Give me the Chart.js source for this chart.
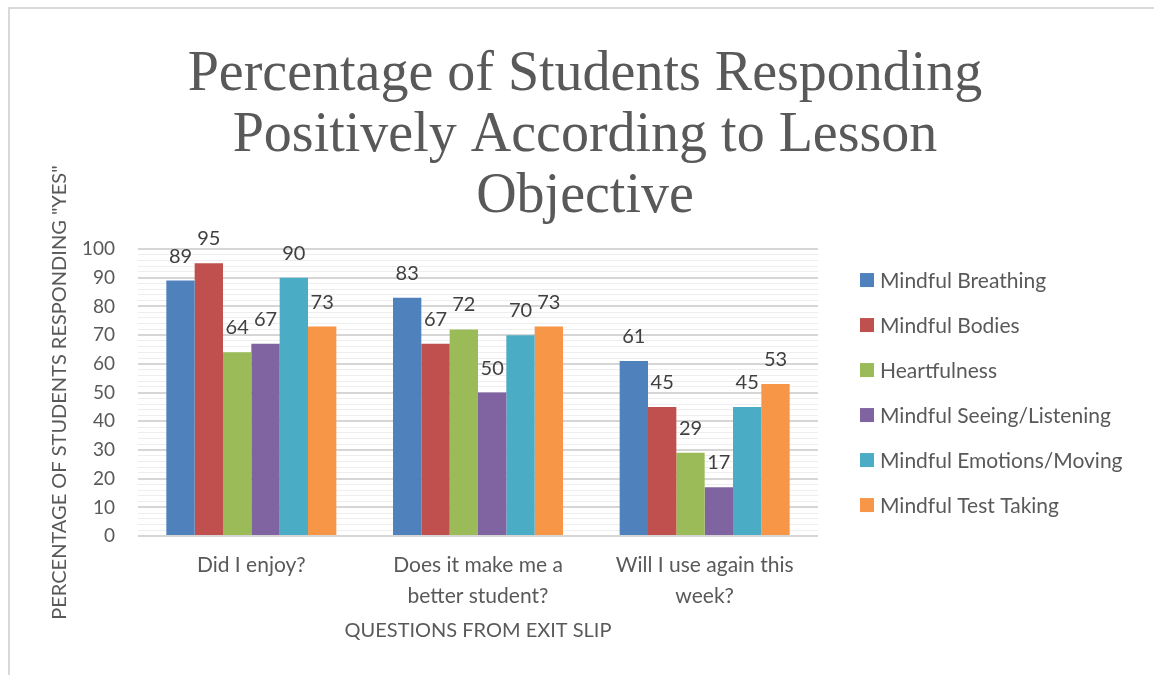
<!DOCTYPE html>
<html>
<head>
<meta charset="utf-8">
<script src="https://cdn.jsdelivr.net/npm/chart.js@4/dist/chart.umd.min.js"></script>
<style>
  html, body { margin: 0; padding: 0; background: #fff; }
  #wrap { position: relative; width: 1154px; height: 675px; }
  #frame { position: absolute; left: 8px; top: 7px; right: 0; bottom: 0; border-left: 2px solid #d9d9d9; border-top: 2px solid #d9d9d9; }
  canvas { position: absolute; left: 0; top: 0; }
</style>
</head>
<body>
<div id="wrap">
  <div id="frame"></div>
  <canvas id="chart" width="1154" height="675"></canvas>
</div>
<script>
// 문항(카테고리)
const questions = [
  ['Did I enjoy?'],
  ['Does it make me a', 'better student?'],
  ['Will I use again this', 'week?']
];
// 활동별 "YES" 비율
const mindfulBreathing = [89, 83, 61];
const mindfulBodies = [95, 67, 45];
const heartfulness = [64, 72, 29];
const mindfulSeeing = [67, 50, 17];
const mindfulEmotions = [90, 70, 45];
const mindfulTestTaking = [73, 73, 53];
const seriesNames = ['Mindful Breathing', 'Mindful Bodies', 'Heartfulness',
  'Mindful Seeing/Listening', 'Mindful Emotions/Moving', 'Mindful Test Taking'];
const seriesColors = ['#4F81BD', '#C0504D', '#9BBB59', '#8064A2', '#4BACC6', '#F79646'];
const yTicks = [0, 10, 20, 30, 40, 50, 60, 70, 80, 90, 100];
const titleLines = ['Percentage of Students Responding', 'Positively According to Lesson', 'Objective'];

const textColor = '#595959';
const sans = 'Lato';

// 제목 (캔버스 가운데 기준)
const bigTitle = {
  id: 'bigTitle',
  afterDraw(chart) {
    const ctx = chart.ctx;
    ctx.save();
    ctx.font = '56px "Liberation Serif"';
    ctx.fillStyle = textColor;
    ctx.textAlign = 'center';
    ctx.textBaseline = 'alphabetic';
    titleLines.forEach((t, i) => ctx.fillText(t, 585, 90 + i * 61));
    ctx.restore();
  }
};

// 막대 위 값 표시
const valueLabels = {
  id: 'valueLabels',
  afterDatasetsDraw(chart) {
    const ctx = chart.ctx;
    ctx.save();
    ctx.font = '20px ' + sans;
    ctx.fillStyle = '#404040';
    ctx.textAlign = 'center';
    ctx.textBaseline = 'alphabetic';
    chart.data.datasets.forEach((ds, i) => {
      chart.getDatasetMeta(i).data.forEach((bar, j) => {
        ctx.fillText(ds.data[j], bar.x, bar.y - 18);
      });
    });
    ctx.restore();
  }
};

// 오른쪽 범례 (엑셀 스타일)
const sideLegend = {
  id: 'sideLegend',
  afterDraw(chart) {
    const ctx = chart.ctx;
    const area = chart.chartArea;
    const gap = 45;
    const mid = (area.top + area.bottom) / 2;
    const y0 = mid - gap * (chart.data.datasets.length - 1) / 2;
    ctx.save();
    ctx.font = '21px ' + sans;
    ctx.textBaseline = 'middle';
    chart.data.datasets.forEach((ds, i) => {
      const y = y0 + i * gap;
      ctx.fillStyle = ds.backgroundColor;
      ctx.fillRect(860, y - 7, 14, 14);
      ctx.fillStyle = textColor;
      ctx.fillText(ds.label, 880, y + 1);
    });
    ctx.restore();
  }
};

const seriesData = [mindfulBreathing, mindfulBodies, heartfulness, mindfulSeeing, mindfulEmotions, mindfulTestTaking];

new Chart(document.getElementById('chart'), {
  type: 'bar',
  data: {
    labels: questions,
    datasets: seriesData.map((d, i) => ({
      label: seriesNames[i],
      data: d,
      backgroundColor: seriesColors[i],
      borderWidth: 0,
      categoryPercentage: 0.75,
      barPercentage: 1.0
    }))
  },
  plugins: [bigTitle, valueLabels, sideLegend],
  options: {
    responsive: false,
    animation: false,
    layout: { padding: { left: 37, right: 336, top: 249, bottom: 32 } },
    plugins: {
      legend: { display: false },
      tooltip: { enabled: false },
      title: { display: false }
    },
    scales: {
      x: {
        grid: { display: false },
        border: { display: false },
        ticks: {
          color: textColor,
          font: { family: sans, size: 21, lineHeight: 1.45 },
          maxRotation: 0,
          padding: 6
        },
        title: {
          display: true,
          text: 'QUESTIONS FROM EXIT SLIP',
          color: textColor,
          font: { family: sans, size: 20 },
          padding: { top: 2, bottom: 0 }
        }
      },
      y: {
        min: 0,
        max: 100,
        border: { display: false },
        afterFit: s => { s.width = 101; },
        grid: {
          drawTicks: false,
          color: c => (yTicks.includes(c.tick.value) ? '#d6d6d6' : '#eeeeee'),
          lineWidth: c => (yTicks.includes(c.tick.value) ? 2 : 1)
        },
        ticks: {
          stepSize: 2,
          autoSkip: false,
          color: textColor,
          font: { family: sans, size: 19 },
          padding: 23,
          callback: v => (yTicks.includes(v) ? v : '')
        },
        title: {
          display: true,
          text: 'PERCENTAGE OF STUDENTS RESPONDING "YES"',
          color: textColor,
          font: { family: sans, size: 20 },
          padding: { top: 11, bottom: 0 }
        }
      }
    }
  }
});
</script>
</body>
</html>
